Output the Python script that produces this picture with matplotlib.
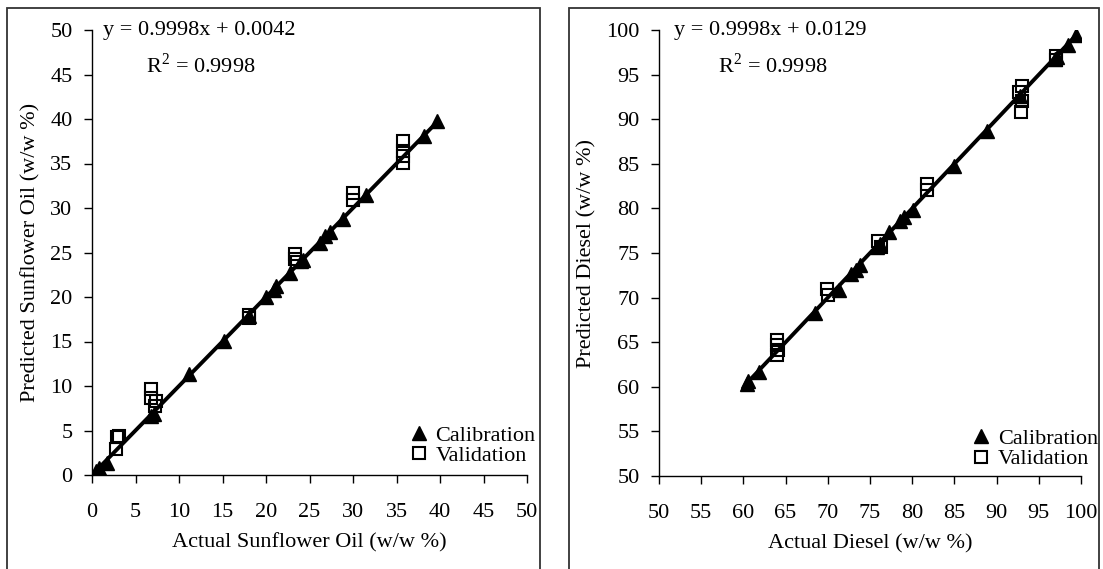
import matplotlib
matplotlib.use("Agg")
import matplotlib.pyplot as plt
from matplotlib.patches import Rectangle

plt.rcParams['font.family'] = ['Liberation Serif', 'DejaVu Serif']
plt.rcParams['mathtext.fontset'] = 'custom'
plt.rcParams['mathtext.rm'] = 'Liberation Serif'

# Sunflower oil panel
oil_cal_actual = [0.5, 0.8, 1.7, 6.8, 7.1, 11.2, 15.2, 18.0, 20.0, 20.9, 21.2, 22.8,
                  24.0, 24.3, 26.2, 26.8, 27.4, 28.8, 31.5, 38.2, 39.6]
oil_cal_pred = [0.5, 0.8, 1.4, 6.6, 6.8, 11.3, 15.1, 17.9, 20.0, 20.8, 21.2, 22.7,
                24.0, 24.2, 26.1, 26.8, 27.3, 28.8, 31.5, 38.1, 39.8]
oil_val_actual = [2.8, 2.9, 3.1, 6.8, 6.8, 7.3, 7.2, 18.0, 18.1, 23.3, 23.3, 23.6,
                  30.0, 30.0, 35.8, 35.8, 35.8, 35.8]
oil_val_pred = [2.9, 4.3, 4.4, 9.7, 8.7, 8.3, 7.8, 18.0, 17.6, 24.8, 24.3, 23.9,
                31.7, 30.9, 37.5, 36.4, 35.8, 35.1]
oil_fit = (0.9998, 0.0042)
oil_r2 = 0.9998

# Diesel panel
dsl_cal_actual = [60.4, 60.6, 61.8, 68.5, 71.3, 72.8, 73.3, 73.8, 75.8, 76.2, 77.2,
                  78.6, 79.0, 80.1, 84.9, 88.9, 92.8, 96.9, 97.2, 98.5, 99.4]
dsl_cal_pred = [60.3, 60.7, 61.7, 68.3, 70.9, 72.6, 73.1, 73.6, 75.7, 76.0, 77.3,
                78.6, 79.0, 79.8, 84.8, 88.7, 92.6, 96.8, 97.0, 98.3, 99.4]
dsl_val_actual = [64.0, 64.0, 64.1, 64.0, 69.9, 70.0, 76.0, 76.3, 81.8, 81.8,
                  92.6, 93.0, 93.0, 92.9, 97.0, 97.0]
dsl_val_pred = [65.3, 64.7, 64.1, 63.6, 71.0, 70.3, 76.4, 75.7, 82.7, 82.1,
                93.0, 93.7, 92.0, 90.8, 97.1, 96.6]
dsl_fit = (0.9998, 0.0129)
dsl_r2 = 0.9998

W, H = 1103, 569
FS = 16
fig = plt.figure(figsize=(W / 100, H / 100), dpi=100)

# outer frames around each panel
for x0, x1 in [(7, 540), (569, 1099)]:
    fig.patches.append(Rectangle((x0 / W, -0.05), (x1 - x0) / W, 1.05 - 8 / H,
                                 transform=fig.transFigure, fill=False,
                                 edgecolor='#333333', linewidth=1.3))


def draw_panel(rect, cal_x, cal_y, val_x, val_y, fit, r2, lims, xlabel, ylabel,
               eq_pos, leg_anchor):
    ax = fig.add_axes(rect)
    lo, hi = lims
    # regression line over the calibration range
    xs = [min(cal_x), max(cal_x)]
    ax.plot(xs, [fit[0] * v + fit[1] for v in xs], color='black', lw=2.8, zorder=2)
    ax.plot(cal_x, cal_y, linestyle='none', marker='^', color='black',
            markersize=10.5, label='Calibration', zorder=3)
    ax.plot(val_x, val_y, linestyle='none', marker='s', markerfacecolor='none',
            markeredgecolor='black', markeredgewidth=1.5, markersize=8,
            label='Validation', zorder=4)
    ax.set_xlim(lo, hi)
    ax.set_ylim(lo, hi)
    ticks = list(range(lo, hi + 1, 5))
    ax.set_xticks(ticks)
    ax.set_yticks(ticks)
    for s in ['top', 'right']:
        ax.spines[s].set_visible(False)
    for s in ['left', 'bottom']:
        ax.spines[s].set_linewidth(1.0)
    ax.tick_params(axis='x', direction='out', length=6, width=1, labelsize=FS, pad=14)
    ax.tick_params(axis='y', direction='out', length=6, width=1, labelsize=FS, pad=8)
    ax.set_xlabel(xlabel, fontsize=FS, labelpad=8)
    ax.set_ylabel(ylabel, fontsize=FS, labelpad=7)
    sign = '+' if fit[1] >= 0 else '-'
    ax.text(eq_pos[0], 1.0, f'y = {fit[0]:.4f}x {sign} {abs(fit[1]):.4f}',
            transform=ax.transAxes, fontsize=FS, ha='left', va='center')
    ax.text(eq_pos[1], 0.92, f'R$^2$ = {r2:.4f}',
            transform=ax.transAxes, fontsize=FS, ha='left', va='center')
    ax.legend(loc='lower right', bbox_to_anchor=leg_anchor, frameon=False,
              fontsize=FS, handlelength=0.8, handletextpad=0.35,
              labelspacing=0.0, borderaxespad=0, borderpad=0)
    return ax


draw_panel([92 / W, 1 - 475 / H, 435 / W, 445 / H],
           oil_cal_actual, oil_cal_pred, oil_val_actual, oil_val_pred,
           oil_fit, oil_r2, (0, 50),
           'Actual Sunflower Oil (w/w %)', 'Predicted Sunflower Oil (w/w %)',
           (0.025, 0.125), (1.02, 0.02))

draw_panel([659 / W, 1 - 476 / H, 422 / W, 446 / H],
           dsl_cal_actual, dsl_cal_pred, dsl_val_actual, dsl_val_pred,
           dsl_fit, dsl_r2, (50, 100),
           'Actual Diesel (w/w %)', 'Predicted Diesel (w/w %)',
           (0.035, 0.14), (1.04, 0.015))

fig.savefig('out.png', dpi=100)
